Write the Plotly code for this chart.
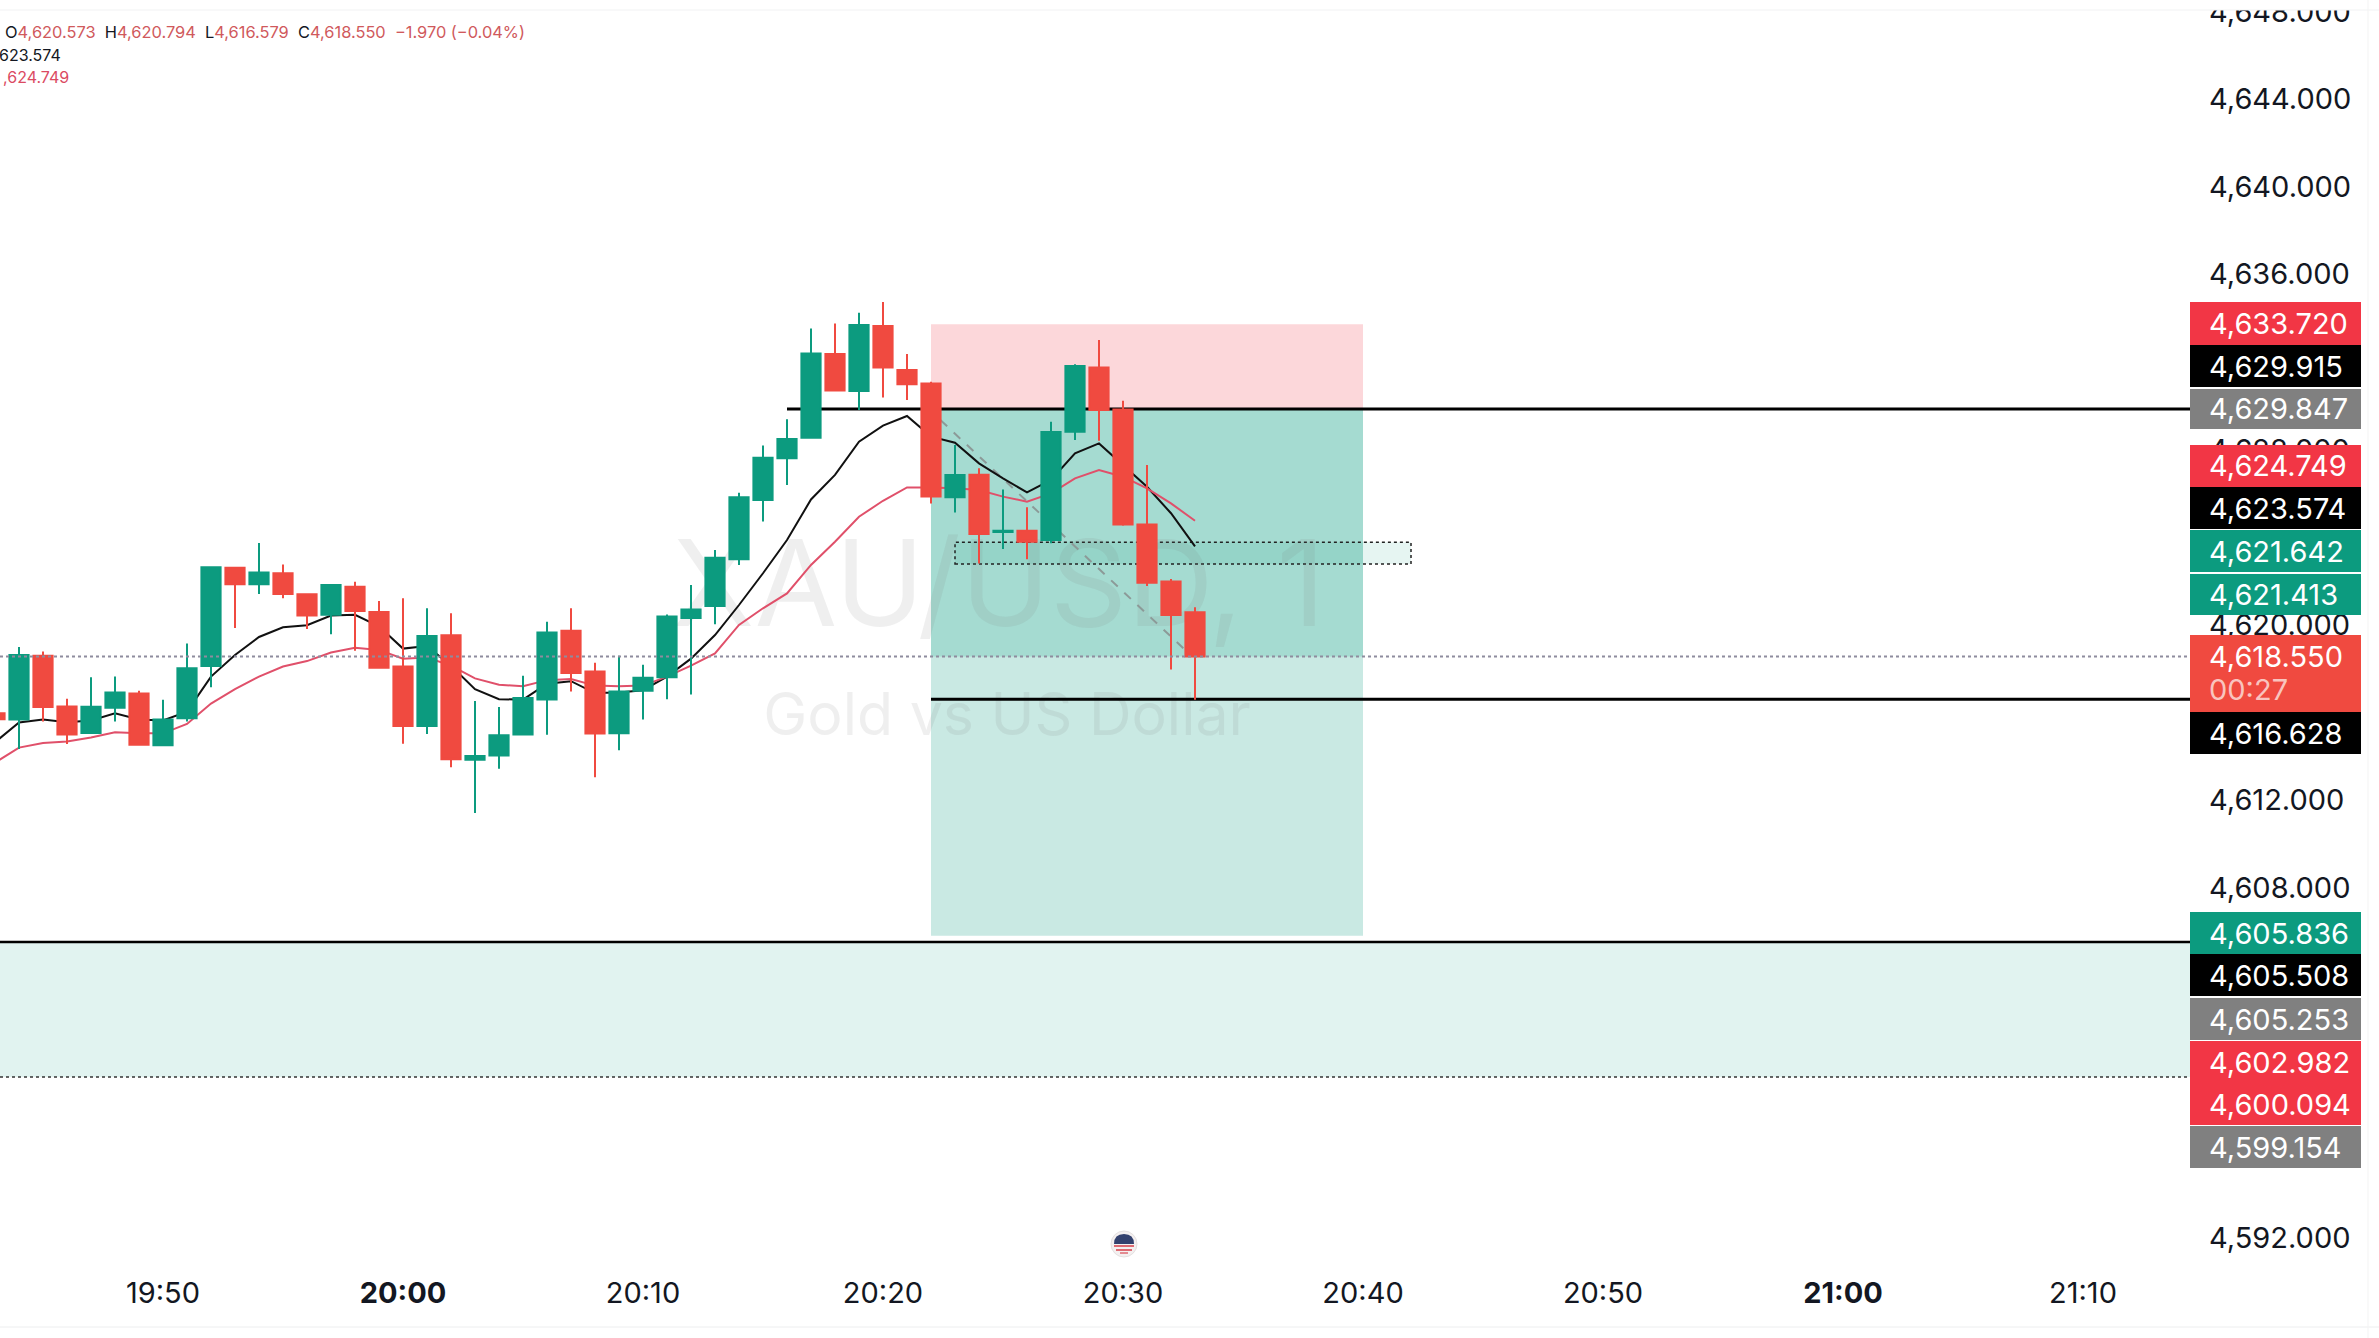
import pandas as pd
import plotly.graph_objects as go

DAY = "2025-01-15 "
times = pd.date_range(DAY + "19:43", periods=51, freq="min")

opens = [4615.96, 4615.67, 4618.58, 4616.27, 4615.06, 4616.21, 4616.86, 4614.50, 4615.73, 4618.11,
         4622.60, 4621.85, 4622.35, 4621.39, 4620.45, 4621.73, 4620.58, 4618.09, 4615.37, 4619.52,
         4613.83, 4614.03, 4614.99, 4616.58, 4619.72, 4617.86, 4615.04, 4616.99, 4617.60, 4620.31,
         4620.85, 4622.99, 4625.69, 4627.60, 4628.54, 4632.36, 4630.67, 4633.64, 4631.63, 4631.02,
         4625.82, 4626.85, 4624.23, 4624.29, 4623.87, 4628.81, 4631.75, 4629.83, 4624.58, 4621.97,
         4620.573]
highs = [4616.00, 4618.98, 4618.78, 4616.62, 4617.60, 4617.63, 4616.98, 4616.57, 4619.14, 4622.65,
         4622.63, 4623.73, 4622.75, 4621.41, 4621.84, 4621.96, 4621.08, 4621.21, 4620.75, 4620.52,
         4616.52, 4616.24, 4617.67, 4620.14, 4620.75, 4618.26, 4618.58, 4618.17, 4620.47, 4621.81,
         4623.41, 4626.03, 4628.18, 4629.38, 4633.53, 4633.76, 4634.25, 4634.74, 4632.36, 4631.09,
         4628.21, 4627.14, 4626.18, 4625.36, 4629.27, 4631.89, 4633.00, 4630.23, 4627.29, 4622.09,
         4620.794]
lows = [4615.65, 4614.32, 4615.58, 4614.55, 4615.03, 4615.58, 4614.50, 4614.47, 4615.58, 4617.14,
        4619.85, 4621.40, 4621.21, 4619.81, 4619.57, 4618.81, 4618.01, 4614.57, 4615.01, 4613.49,
        4611.40, 4613.42, 4614.95, 4614.98, 4616.95, 4613.04, 4614.27, 4615.67, 4616.60, 4616.81,
        4620.02, 4622.73, 4624.71, 4626.38, 4628.52, 4630.67, 4629.80, 4630.38, 4630.26, 4625.54,
        4625.13, 4622.80, 4623.46, 4622.99, 4623.72, 4628.43, 4628.40, 4624.52, 4621.77, 4617.96,
        4616.579]
closes = [4615.68, 4618.62, 4616.24, 4614.99, 4616.26, 4616.91, 4614.52, 4615.67, 4618.01, 4622.63,
          4621.85, 4622.39, 4621.40, 4620.42, 4621.81, 4620.63, 4618.04, 4615.37, 4619.49, 4613.86,
          4614.01, 4614.95, 4616.65, 4619.65, 4617.80, 4615.03, 4616.95, 4617.58, 4620.37, 4620.70,
          4623.06, 4625.82, 4627.63, 4628.48, 4632.39, 4630.69, 4633.69, 4631.74, 4630.98, 4625.85,
          4626.84, 4624.14, 4624.29, 4623.79, 4628.80, 4631.81, 4629.80, 4624.58, 4621.92, 4620.44,
          4618.550]

ema_black = [4614.63, 4615.54, 4615.67, 4615.55, 4615.63, 4615.96, 4615.67, 4615.63, 4616.03, 4617.63,
             4618.62, 4619.44, 4619.88, 4619.98, 4620.42, 4620.45, 4619.93, 4618.91, 4619.03, 4618.13,
             4617.06, 4616.60, 4616.58, 4617.31, 4617.42, 4616.88, 4616.90, 4617.01, 4617.63, 4618.45,
             4619.53, 4620.90, 4622.35, 4623.87, 4625.72, 4626.84, 4628.36, 4629.09, 4629.53, 4628.59,
             4628.31, 4627.37, 4626.68, 4626.04, 4626.61, 4627.83, 4628.28, 4627.29, 4626.30, 4625.09,
             4623.574]
ema_red = [4613.70, 4614.39, 4614.60, 4614.67, 4614.85, 4615.09, 4615.04, 4615.04, 4615.47, 4616.40,
           4617.06, 4617.63, 4618.09, 4618.34, 4618.73, 4618.95, 4618.85, 4618.45, 4618.50, 4618.13,
           4617.55, 4617.26, 4617.19, 4617.47, 4617.52, 4617.22, 4617.19, 4617.22, 4617.63, 4618.13,
           4618.69, 4619.99, 4620.75, 4621.43, 4622.73, 4623.79, 4624.93, 4625.66, 4626.27, 4626.27,
           4626.23, 4626.15, 4625.85, 4625.62, 4626.00, 4626.68, 4627.06, 4626.76, 4626.23, 4625.54,
           4624.749]

x_ticks = ["19:50", "20:00", "20:10", "20:20", "20:30", "20:40", "20:50", "21:00", "21:10"]
x_labels = ["19:50", "<b>20:00</b>", "20:10", "20:20", "20:30", "20:40", "20:50", "<b>21:00</b>", "21:10"]
# the other multiples of 4 sit fully behind the price tags
y_ticks = [4592, 4608, 4612, 4616, 4620, 4628, 4636, 4640, 4644, 4648]

# position tool levels
stop_price = 4633.72
entry_price = 4629.847
target_price = 4605.80
last_price = 4618.55
low_line_price = 4616.60
zone_top = 4605.508
zone_bottom = 4599.35
box_top = 4623.77
box_bottom = 4622.77
pos_start = DAY + "20:22"
pos_end = DAY + "20:40"
box_start = DAY + "20:23"
box_end = DAY + "20:42"
entry_line_start = DAY + "20:16"
dash_x = [DAY + "20:22:24", DAY + "20:32:36"]
dash_y = [4629.34, 4618.84]

# tag text, colour, top and bottom pixel on the price scale
tags = [
    ("4,633.720", "#F23645", 302, 345),
    ("4,629.915", "#000000", 345, 387),
    ("4,629.847", "#808080", 389, 429),
    ("4,624.749", "#F23645", 445, 487),
    ("4,623.574", "#000000", 487, 529),
    ("4,621.642", "#0C9B7F", 530, 572),
    ("4,621.413", "#0C9B7F", 574, 615),
    ("4,605.836", "#0C9B7F", 912, 954),
    ("4,605.508", "#000000", 954, 996),
    ("4,605.253", "#808080", 998, 1040),
    ("4,602.982", "#F23645", 1041, 1083),
    ("4,600.094", "#F23645", 1083, 1125),
    ("4,599.154", "#808080", 1126, 1168),
]

GREEN = "#0C9B7F"
RED = "#F04A40"
FONT = "Inter"
W, H = 2379, 1338
PLOT_RIGHT, PLOT_TOP, PLOT_BOTTOM = 2190, 10, 1262
X_RANGE = [DAY + "19:43:12.5", DAY + "21:14:27.5"]
Y_RANGE = [4590.90, 4648.07]


def px(v):
    return v / PLOT_RIGHT


def py(v):
    return (PLOT_BOTTOM - v) / (PLOT_BOTTOM - PLOT_TOP)


def box(x0, x1, y0, y1, color, **kw):
    return dict(type="rect", xref="x", yref="y", x0=x0, x1=x1, y0=y0, y1=y1,
                fillcolor=color, line_width=0, layer="below", **kw)


def paper_rect(x0, x1, y0, y1, color):
    return dict(type="rect", xref="paper", yref="paper", x0=px(x0), x1=px(x1), y0=py(y0), y1=py(y1),
                fillcolor=color, line_width=0, layer="above")


def paper_line(x0, x1, y0, y1, color, width=1):
    return dict(type="line", xref="paper", yref="paper", x0=px(x0), x1=px(x1), y0=py(y0), y1=py(y1),
                line=dict(color=color, width=width), layer="above")


fig = go.Figure()

# watermark sits under everything else
fig.add_trace(go.Scatter(x=[DAY + "20:24:50", DAY + "20:25:10"], y=[4621.3, 4615.65], mode="text",
                         text=["XAU/USD, 1", "Gold vs US Dollar"],
                         textfont=dict(family=FONT, size=[120, 59], color="rgba(120,120,120,0.12)"),
                         hoverinfo="skip"))
fig.add_trace(go.Scatter(x=[entry_line_start, X_RANGE[1]], y=[entry_price, entry_price], mode="lines",
                         line=dict(color="#000000", width=3), hoverinfo="skip"))
fig.add_trace(go.Scatter(x=[pos_start, X_RANGE[1]], y=[low_line_price, low_line_price], mode="lines",
                         line=dict(color="#000000", width=3), hoverinfo="skip"))
fig.add_trace(go.Scatter(x=X_RANGE, y=[zone_top, zone_top], mode="lines",
                         line=dict(color="#000000", width=2.5), hoverinfo="skip"))
fig.add_trace(go.Scatter(x=X_RANGE, y=[zone_bottom, zone_bottom], mode="lines",
                         line=dict(color="#333333", width=1.5, dash="dot"), hoverinfo="skip"))
fig.add_trace(go.Scatter(x=dash_x, y=dash_y, mode="lines",
                         line=dict(color="#8C9A98", width=2, dash="dash"), hoverinfo="skip"))
fig.add_trace(go.Scatter(x=times, y=ema_black, mode="lines", line=dict(color="#111111", width=2)))
fig.add_trace(go.Scatter(x=times, y=ema_red, mode="lines", line=dict(color="#E0506A", width=2)))

# candles on an overlaid axis so the lines stay behind them
fig.add_trace(go.Candlestick(x=times, open=opens, high=highs, low=lows, close=closes, yaxis="y2",
                             whiskerwidth=0,
                             increasing=dict(line=dict(color=GREEN, width=2), fillcolor=GREEN),
                             decreasing=dict(line=dict(color=RED, width=2), fillcolor=RED)))

shapes = [
    box(pos_start, pos_end, entry_price, stop_price, "rgba(242,54,69,0.2)"),
    box(pos_start, pos_end, target_price, entry_price, "rgba(8,153,129,0.22)"),
    box(pos_start, pos_end, last_price, entry_price, "rgba(8,153,129,0.18)"),
    box(X_RANGE[0], X_RANGE[1], zone_bottom, zone_top, "rgba(8,153,129,0.12)"),
    dict(type="rect", xref="x", yref="y", x0=box_start, x1=box_end, y0=box_bottom, y1=box_top,
         fillcolor="rgba(8,153,129,0.1)", line=dict(color="#222222", width=1.5, dash="dot"), layer="below"),
    dict(type="line", xref="paper", yref="y", x0=0, x1=1, y0=last_price, y1=last_price,
         line=dict(color="#8E8C9E", width=2, dash="dot"), layer="above"),
    # frame of the screenshot
    paper_rect(0, W, -10, PLOT_TOP, "#FFFFFF"),
    paper_line(0, W, 10, 10, "#F1F2F3"),
    paper_line(0, W, 1327, 1327, "#EDEEEF"),
    paper_line(2368, 2368, 0, H, "#F3F3F3"),
]

annotations = []


def label(text, x, y, size=29, color="#FFFFFF", anchor="left"):
    annotations.append(dict(text=text, xref="paper", yref="paper", x=px(x), y=py(y), xanchor=anchor,
                            yanchor="middle", showarrow=False, borderpad=0, align="left",
                            font=dict(family=FONT, size=size, color=color)))


for text, color, top, bottom in tags:
    shapes.append(paper_rect(2190, 2361, top, bottom, color))
    label(text, 2208, (top + bottom) / 2)

# live price tag with the countdown
shapes.append(paper_rect(2190, 2361, 635, 712, RED))
label("4,618.550", 2208, 656)
label("00:27", 2208, 690, color="#F9C4BF")
shapes.append(paper_rect(2190, 2361, 712, 754, "#000000"))
label("4,616.628", 2208, 733)

# top left legend
LEG = "#D0595C"
label('<span style="color:#131722">O</span>4,620.573  <span style="color:#131722">H</span>4,620.794  '
      '<span style="color:#131722">L</span>4,616.579  <span style="color:#131722">C</span>4,618.550  '
      '−1.970 (−0.04%)', 4, 32, size=16.4, color=LEG)
label("623.574", 62, 55, size=16, color="#131722", anchor="right")
label(",624.749", 70, 77, size=16, color="#DB4A62", anchor="right")

# economic calendar flag
shapes += [
    dict(type="circle", xref="paper", yref="paper", x0=px(1111), x1=px(1137), y0=py(1231), y1=py(1257),
         fillcolor="#F4F0F0", line=dict(color="#E4E0E0", width=1), layer="above"),
    dict(type="path", xref="paper", yref="paper", layer="above", fillcolor="#33416E", line_width=0,
         path=f"M {px(1114)} {py(1244)} Q {px(1114)} {py(1234)} {px(1124)} {py(1234)} "
              f"Q {px(1134)} {py(1234)} {px(1134)} {py(1244)} Z"),
    paper_line(1114, 1134, 1246, 1246, "#DE6A72", 2),
    paper_line(1116, 1132, 1250, 1250, "#DE6A72", 2),
    paper_line(1120, 1128, 1253, 1253, "#DE6A72", 1.5),
]

fig.update_layout(
    width=W, height=H,
    margin=dict(l=0, r=W - PLOT_RIGHT, t=PLOT_TOP, b=H - PLOT_BOTTOM),
    paper_bgcolor="#FFFFFF", plot_bgcolor="#FFFFFF",
    showlegend=False, boxgap=0.2, boxgroupgap=0,
    shapes=shapes, annotations=annotations,
    xaxis=dict(range=X_RANGE, type="date", showgrid=False, zeroline=False, showline=False, ticks="",
               automargin=False, tickvals=[DAY + t for t in x_ticks], ticktext=x_labels, ticklabelstandoff=11,
               tickfont=dict(family=FONT, size=29, color="#131722"), rangeslider_visible=False),
    yaxis=dict(range=Y_RANGE, side="right", showgrid=False, zeroline=False, showline=False, ticks="",
               automargin=False, tickvals=y_ticks, tickformat=",.3f", ticklabelstandoff=18,
               ticklabeloverflow="allow", tickfont=dict(family=FONT, size=29, color="#131722")),
    yaxis2=dict(range=Y_RANGE, overlaying="y", side="right", visible=False, automargin=False),
)

fig.write_html("out.html", config={"displayModeBar": False}, post_script="document.body.style.margin='0';")
